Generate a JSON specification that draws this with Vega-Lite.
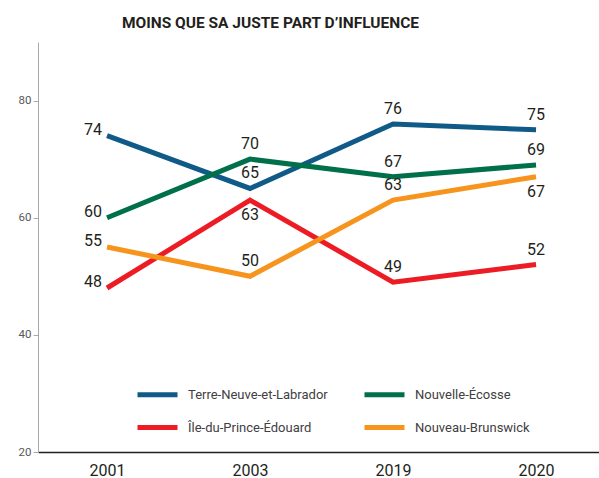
{
  "$schema": "https://vega.github.io/schema/vega-lite/v6.json",
  "width": 561,
  "height": 410,
  "autosize": {"type": "none"},
  "padding": {"left": 38, "top": 42, "right": 0, "bottom": 26},
  "background": "white",
  "config": {
    "view": {"stroke": null},
    "font": "Roboto"
  },
  "title": {
    "text": "MOINS QUE SA JUSTE PART D’INFLUENCE",
    "fontSize": 15.5,
    "fontWeight": "bold",
    "font": "Roboto",
    "color": "#231f20",
    "anchor": "middle",
    "dx": -48,
    "offset": 11
  },
  "data": {
    "values": [
      {"province": "Terre-Neuve-et-Labrador", "annee": "2001", "valeur": 74},
      {"province": "Terre-Neuve-et-Labrador", "annee": "2003", "valeur": 65},
      {"province": "Terre-Neuve-et-Labrador", "annee": "2019", "valeur": 76},
      {"province": "Terre-Neuve-et-Labrador", "annee": "2020", "valeur": 75},
      {"province": "Nouvelle-Écosse", "annee": "2001", "valeur": 60},
      {"province": "Nouvelle-Écosse", "annee": "2003", "valeur": 70},
      {"province": "Nouvelle-Écosse", "annee": "2019", "valeur": 67},
      {"province": "Nouvelle-Écosse", "annee": "2020", "valeur": 69},
      {"province": "Île-du-Prince-Édouard", "annee": "2001", "valeur": 48},
      {"province": "Île-du-Prince-Édouard", "annee": "2003", "valeur": 63},
      {"province": "Île-du-Prince-Édouard", "annee": "2019", "valeur": 49},
      {"province": "Île-du-Prince-Édouard", "annee": "2020", "valeur": 52},
      {"province": "Nouveau-Brunswick", "annee": "2001", "valeur": 55},
      {"province": "Nouveau-Brunswick", "annee": "2003", "valeur": 50},
      {"province": "Nouveau-Brunswick", "annee": "2019", "valeur": 63},
      {"province": "Nouveau-Brunswick", "annee": "2020", "valeur": 67}
    ]
  },
  "encoding": {
    "x": {
      "field": "annee",
      "type": "ordinal",
      "sort": ["2001", "2003", "2019", "2020"],
      "scale": {"type": "point", "padding": 0.4615, "align": 0.523},
      "axis": {
        "title": null,
        "labelAngle": 0,
        "ticks": false,
        "domainColor": "#231f20",
        "domainWidth": 1.5,
        "labelPadding": 10,
        "labelFontSize": 16,
        "labelColor": "#231f20",
        "grid": false
      }
    },
    "y": {
      "field": "valeur",
      "type": "quantitative",
      "scale": {"domain": [20, 90], "nice": false, "zero": false},
      "axis": {
        "title": null,
        "values": [20, 40, 60, 80],
        "grid": false,
        "domainColor": "#a7a9ac",
        "tickColor": "#a7a9ac",
        "tickSize": 5,
        "labelColor": "#58595b",
        "labelFontSize": 11.5,
        "labelPadding": 2
      }
    }
  },
  "layer": [
    {
      "mark": {"type": "line", "strokeWidth": 5, "strokeCap": "butt"},
      "encoding": {
        "color": {
          "field": "province",
          "type": "nominal",
          "scale": {
            "domain": ["Terre-Neuve-et-Labrador", "Nouvelle-Écosse", "Île-du-Prince-Édouard", "Nouveau-Brunswick"],
            "range": ["#0f5a87", "#00704a", "#ed1c24", "#f7941d"]
          },
          "legend": {
            "title": null,
            "orient": "none",
            "direction": "horizontal",
            "legendX": 97,
            "legendY": 330,
            "columns": 2,
            "symbolType": "stroke",
            "symbolSize": 1600,
            "symbolStrokeWidth": 5,
            "labelFontSize": 13,
            "labelLimit": 300,
            "labelColor": "#414042",
            "labelOffset": 8,
            "columnPadding": 26,
            "rowPadding": -4
          }
        }
      }
    },
    {
      "transform": [{"filter": "datum.annee == '2001'"}],
      "mark": {"type": "text", "align": "right", "baseline": "middle", "dx": -5, "dy": -6, "fontSize": 16, "color": "#231f20"},
      "encoding": {"text": {"field": "valeur", "type": "quantitative"}}
    },
    {
      "transform": [{"filter": "(datum.province == 'Île-du-Prince-Édouard' && datum.annee == '2003') || (datum.province == 'Nouveau-Brunswick' && datum.annee == '2020')"}],
      "mark": {"type": "text", "align": "center", "baseline": "middle", "dy": 15, "fontSize": 16, "color": "#231f20"},
      "encoding": {"text": {"field": "valeur", "type": "quantitative"}}
    },
    {
      "transform": [{"filter": "datum.annee != '2001' && !((datum.province == 'Île-du-Prince-Édouard' && datum.annee == '2003') || (datum.province == 'Nouveau-Brunswick' && datum.annee == '2020'))"}],
      "mark": {"type": "text", "align": "center", "baseline": "middle", "dy": -15, "fontSize": 16, "color": "#231f20"},
      "encoding": {"text": {"field": "valeur", "type": "quantitative"}}
    }
  ]
}
